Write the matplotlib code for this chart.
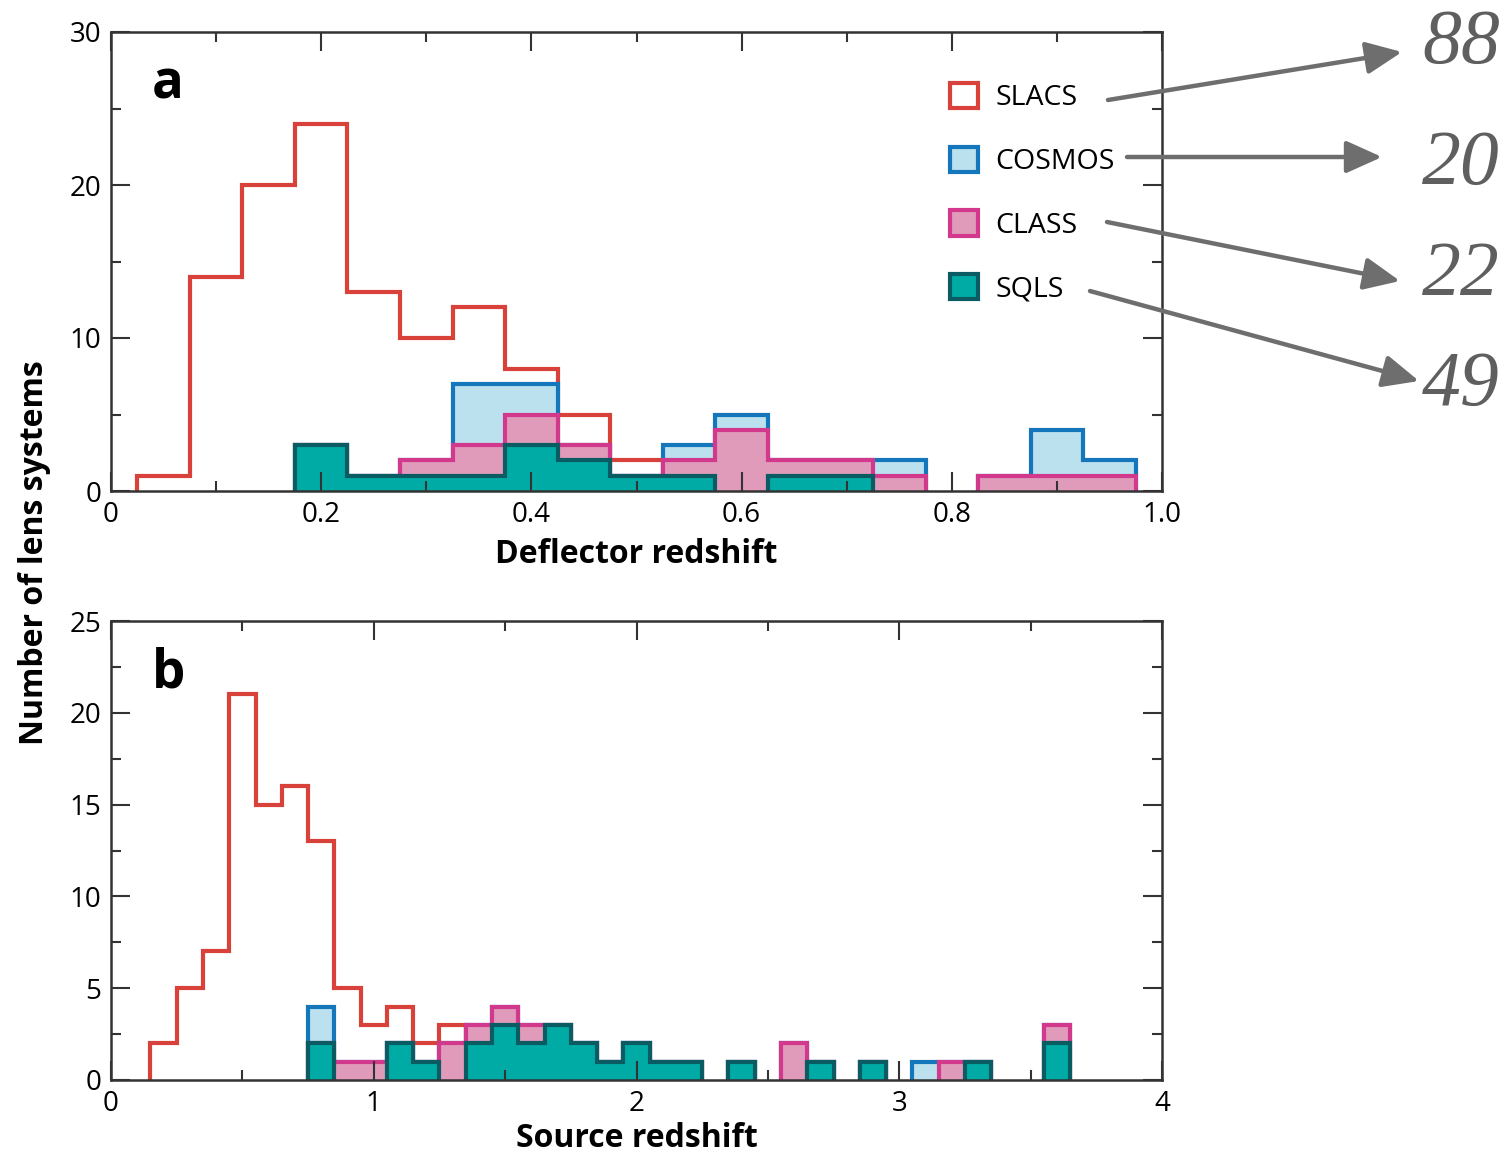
import numpy as np
import matplotlib
matplotlib.use("Agg")
import matplotlib.pyplot as plt
from matplotlib.patches import Patch, FancyArrowPatch
from matplotlib.ticker import MultipleLocator

plt.rcParams['font.family'] = ['Open Sans', 'DejaVu Sans']

# ---- data ----------------------------------------------------------------
# panel a: deflector redshift, bins of 0.05 centred on 0.05 ... 0.95
edges_a = np.arange(0.025, 0.976, 0.05)
slacs_a = [1, 14, 20, 24, 13, 10, 12, 8, 5, 2, 0, 0, 0, 0, 0, 0, 0, 0, 0]
cosmos_a = [0, 0, 0, 0, 0, 0, 4, 2, 0, 0, 1, 1, 0, 0, 1, 0, 0, 3, 1]
class_a = [0, 0, 0, 0, 0, 1, 2, 2, 1, 0, 1, 4, 1, 1, 1, 0, 1, 1, 1]
sqls_a = [0, 0, 0, 3, 1, 1, 1, 3, 2, 1, 1, 0, 1, 1, 0, 0, 0, 0, 0]

# panel b: source redshift, bins of 0.1 centred on 0.2 ... 3.6
edges_b = np.arange(0.15, 3.66, 0.1)
slacs_b = [2, 5, 7, 21, 15, 16, 13, 5, 3, 4, 2, 3, 0, 0, 0, 0, 0, 0,
           0, 0, 0, 0, 0, 0, 0, 0, 0, 0, 0, 0, 0, 0, 0, 0, 0]
cosmos_b = [0, 0, 0, 0, 0, 0, 2, 0, 0, 0, 0, 0, 0, 0, 0, 0, 0, 0,
            0, 0, 0, 0, 0, 0, 0, 0, 0, 0, 0, 1, 0, 0, 0, 0, 0]
class_b = [0, 0, 0, 0, 0, 0, 0, 1, 1, 0, 0, 2, 1, 1, 1, 0, 0, 0,
           0, 0, 0, 0, 0, 0, 2, 0, 0, 0, 0, 0, 1, 0, 0, 0, 1]
sqls_b = [0, 0, 0, 0, 0, 0, 2, 0, 0, 2, 1, 0, 2, 3, 2, 3, 2, 1,
          2, 1, 1, 0, 1, 0, 0, 1, 0, 1, 0, 0, 0, 1, 0, 0, 2]

surveys = ['SLACS', 'COSMOS', 'CLASS', 'SQLS']
totals = ['88', '20', '22', '49']

RED = '#d8423a'
BLUE_E, BLUE_F = '#1577bb', '#bbe1ee'
PINK_E, PINK_F = '#d2388b', '#e09bbb'
TEAL_E, TEAL_F = '#0a5b62', '#00aba6'
AXC = '#333333'

W, H = 1509, 1154
fig = plt.figure(figsize=(W / 100, H / 100), dpi=100)
ax_a = fig.add_axes([111 / W, 1 - 491 / H, 1051 / W, 459 / H])
ax_b = fig.add_axes([111 / W, 1 - 1080 / H, 1051 / W, 459 / H])


def runs(vals):
    # contiguous stretches of non-empty bins
    out = []
    start = None
    for i, v in enumerate(list(vals) + [0]):
        if v > 0 and start is None:
            start = i
        elif v <= 0 and start is not None:
            out.append((start, i))
            start = None
    return out


def stack_layer(ax, vals, edges, fc, ec, z):
    for lo, hi in runs(vals):
        ax.stairs(vals[lo:hi], edges[lo:hi + 1], fill=True, facecolor=fc,
                  edgecolor=ec, lw=3, joinstyle='miter', zorder=z)


def draw_panel(ax, edges, slacs, cosmos, class_, sqls):
    slacs = np.array(slacs)
    for lo, hi in runs(slacs):
        ax.stairs(slacs[lo:hi], edges[lo:hi + 1], color=RED, lw=3,
                  joinstyle='miter', zorder=1)
    s1 = np.array(sqls)
    s2 = s1 + np.array(class_)
    s3 = s2 + np.array(cosmos)
    stack_layer(ax, s3, edges, BLUE_F, BLUE_E, 1.1)
    stack_layer(ax, s2, edges, PINK_F, PINK_E, 1.2)
    stack_layer(ax, s1, edges, TEAL_F, TEAL_E, 1.3)


def style_axes(ax):
    for sp in ax.spines.values():
        sp.set_linewidth(1.8)
        sp.set_color(AXC)
        sp.set_zorder(3)
    ax.tick_params(which='both', direction='in', top=True, right=True,
                   width=1.5, color=AXC, labelsize=20, pad=7)
    ax.tick_params(which='major', length=14)
    ax.tick_params(which='minor', length=7)


draw_panel(ax_a, edges_a, slacs_a, cosmos_a, class_a, sqls_a)
draw_panel(ax_b, edges_b, slacs_b, cosmos_b, class_b, sqls_b)

ax_a.set_xlim(0, 1)
ax_a.set_ylim(0, 30)
ax_a.set_xticks([0, 0.2, 0.4, 0.6, 0.8, 1.0],
                ['0', '0.2', '0.4', '0.6', '0.8', '1.0'])
ax_a.set_yticks([0, 10, 20, 30])
ax_a.xaxis.set_minor_locator(MultipleLocator(0.1))
ax_a.yaxis.set_minor_locator(MultipleLocator(5))
ax_a.set_xlabel('Deflector redshift', fontsize=23, fontweight='bold',
                labelpad=7)

ax_b.set_xlim(0, 4)
ax_b.set_ylim(0, 25)
ax_b.set_xticks([0, 1, 2, 3, 4])
ax_b.set_yticks([0, 5, 10, 15, 20, 25])
ax_b.xaxis.set_minor_locator(MultipleLocator(0.5))
ax_b.yaxis.set_minor_locator(MultipleLocator(2.5))
ax_b.set_xlabel('Source redshift', fontsize=23, fontweight='bold',
                labelpad=3)

for ax, letter in [(ax_a, 'a'), (ax_b, 'b')]:
    style_axes(ax)
    ax.text(0.039, 0.856, letter, transform=ax.transAxes, fontsize=38,
            fontweight='bold', va='baseline', ha='left')

fig.text(35 / W, 1 - 553 / H, 'Number of lens systems', rotation=90,
         fontsize=23, fontweight='bold', ha='center', va='center')

handles = [
    Patch(facecolor='white', edgecolor=RED, lw=3),
    Patch(facecolor=BLUE_F, edgecolor=BLUE_E, lw=3),
    Patch(facecolor=PINK_F, edgecolor=PINK_E, lw=3),
    Patch(facecolor=TEAL_F, edgecolor=TEAL_E, lw=3),
]
ax_a.legend(handles, surveys, loc='upper left',
            bbox_to_anchor=((950 - 111) / 1051, (491 - 83) / 459),
            frameon=False, fontsize=20.5, handlelength=1.0, handleheight=1.0,
            handletextpad=0.6, labelspacing=1.2, borderpad=0,
            borderaxespad=0)


def fp(x, y):
    return (x / W, 1 - y / H)


arrow_pts = [((1108, 100), (1402, 52)),
             ((1127, 157), (1382, 157)),
             ((1107, 222), (1400, 281)),
             ((1090, 291), (1419, 381))]
num_pos = [(1461, 44), (1461, 165), (1461, 276), (1461, 386)]
for (p0, p1), t, pos in zip(arrow_pts, totals, num_pos):
    arr = FancyArrowPatch(fp(*p0), fp(*p1), transform=fig.transFigure,
                          arrowstyle='-|>,head_length=1.0,head_width=0.45',
                          mutation_scale=22, lw=3.2, color='#6e6e6e',
                          shrinkA=0, shrinkB=0)
    fig.add_artist(arr)
    fig.text(*fp(*pos), t, fontsize=56, style='italic',
             family=['Liberation Serif', 'DejaVu Serif'], color='#5f5f5f',
             ha='center', va='center')

fig.savefig('out.png', dpi=100)
